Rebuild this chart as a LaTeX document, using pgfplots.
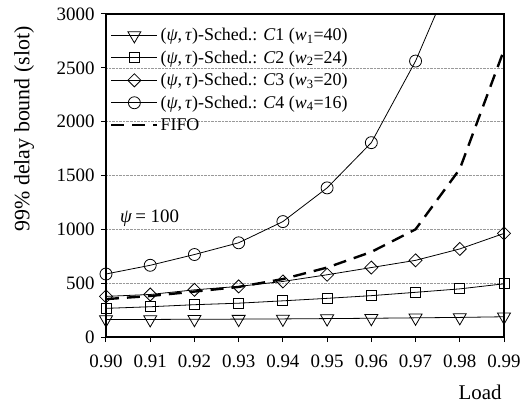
\documentclass[border=0pt]{standalone}
\usepackage{fontspec}
\setmainfont{Liberation Serif}
\usepackage{pgfplots}
\pgfplotsset{compat=1.18}

\newcommand{\psisym}{\textit{ψ}}
\newcommand{\tausym}{\textit{τ}}

\begin{document}
\begin{tikzpicture}
\begin{axis}[
  scale only axis,
  width=398bp, height=323bp,
  xmin=0.9, xmax=0.99, ymin=0, ymax=3000,
  xtick={0.90,0.91,0.92,0.93,0.94,0.95,0.96,0.97,0.98,0.99},
  ytick={0,500,1000,1500,2000,2500,3000},
  xticklabel style={yshift=-9bp, /pgf/number format/.cd, fixed, fixed zerofill, precision=2},
  yticklabel style={xshift=-3bp, /pgf/number format/.cd, fixed, 1000 sep={}},
  /pgf/number format/assume math mode=true,
  tick label style={font=\fontsize{19}{22}\selectfont},
  tick align=outside, xtick pos=bottom, ytick pos=left,
  major tick length=5bp,
  tick style={black, line width=1pt},
  axis line style={line width=1.2pt},
  ymajorgrids,
  grid style={densely dotted, gray!80, line width=0.6pt},
  ylabel={99\% delay bound (slot)},
  ylabel style={at={(axis description cs:-0.206,0.644)}, anchor=center,
    font=\fontsize{22}{26}\selectfont},
  xlabel={Load},
  xlabel style={at={(axis description cs:1.003,-0.195)}, anchor=base east,
    font=\fontsize{21}{25}\selectfont},
  legend cell align=left,
  legend style={at={(axis description cs:0.01,0.962)}, anchor=north west,
    draw=none, fill=none, inner sep=0pt,
    font=\fontsize{18}{20}\selectfont, row sep=4.5bp,
    nodes={inner xsep=2bp, inner ysep=2bp}},
  legend image code/.code={%
    \draw[mark repeat=2, mark phase=2] plot coordinates {(0bp,0bp) (23bp,0bp) (46bp,0bp)};},
  every axis plot/.append style={black, line width=0.8pt},
]
% C1
\addplot[mark=triangle, mark size=7.5bp, mark options={solid, fill=white, rotate=180, line width=0.8pt}]
  coordinates {(0.90,162) (0.91,163) (0.92,165) (0.93,166) (0.94,168)
               (0.95,171) (0.96,174) (0.97,178) (0.98,182) (0.99,188)};
\addlegendentry{(\psisym,\,\tausym)-Sched.: \textit{C}1 (\textit{w}\textsubscript{1}=40)}
% C2
\addplot[mark=square, mark size=5bp, mark options={solid, fill=white, line width=0.8pt}]
  coordinates {(0.90,266) (0.91,281) (0.92,300) (0.93,314) (0.94,336)
               (0.95,359) (0.96,384) (0.97,415) (0.98,447) (0.99,494)};
\addlegendentry{(\psisym,\,\tausym)-Sched.: \textit{C}2 (\textit{w}\textsubscript{2}=24)}
% C3
\addplot[mark=square, mark size=4.6bp, mark options={solid, fill=white, rotate=45, line width=0.8pt}]
  coordinates {(0.90,377) (0.91,395) (0.92,438) (0.93,470) (0.94,516)
               (0.95,578) (0.96,645) (0.97,712) (0.98,818) (0.99,962)};
\addlegendentry{(\psisym,\,\tausym)-Sched.: \textit{C}3 (\textit{w}\textsubscript{3}=20)}
% C4
\addplot[mark=o, mark size=6bp, mark options={solid, fill=white, line width=0.8pt}]
  coordinates {(0.90,585) (0.91,666) (0.92,766) (0.93,875) (0.94,1072)
               (0.95,1385) (0.96,1805) (0.97,2563) (0.98,3520) (0.99,4800)};
\addlegendentry{(\psisym,\,\tausym)-Sched.: \textit{C}4 (\textit{w}\textsubscript{4}=16)}
% FIFO
\addplot[no marks, line width=2.4pt, dash pattern=on 13bp off 8bp]
  coordinates {(0.90,352) (0.91,381) (0.92,422) (0.93,465) (0.94,538)
               (0.95,645) (0.96,790) (0.97,1000) (0.98,1560) (0.99,2666)};
\addlegendentry{FIFO}

\node[anchor=base west, font=\fontsize{19}{22}\selectfont] at (axis cs:0.9024,1060) {\psisym\,= 100};
\end{axis}
\pgfresetboundingbox
\path[use as bounding box] (-106bp,-67bp) rectangle (414bp,337bp);
\end{tikzpicture}
\end{document}
